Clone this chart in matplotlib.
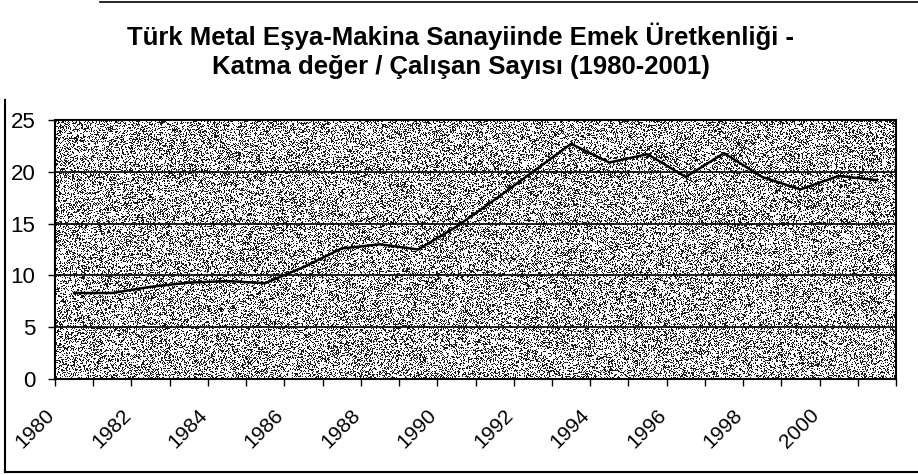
import numpy as np
import matplotlib
matplotlib.use("Agg")
import matplotlib.pyplot as plt
from matplotlib.lines import Line2D
from matplotlib.transforms import ScaledTranslation

plt.rcParams['font.family'] = ['Liberation Sans', 'DejaVu Sans']

years = list(range(1980, 2002))
productivity = [8.3, 8.3, 8.9, 9.3, 9.45, 9.25, 10.8, 12.6, 13.0, 12.5, 14.7,
                17.3, 20.0, 22.7, 20.9, 21.7, 19.5, 21.8, 19.5, 18.3, 19.6, 19.2]
yticks = [0, 5, 10, 15, 20, 25]
title = ("Türk Metal Eşya-Makina Sanayiinde Emek Üretkenliği -\n"
         "Katma değer / Çalışan Sayısı (1980-2001)")

fig = plt.figure(figsize=(9.18, 4.75), dpi=100)
ax = fig.add_axes([55 / 918, 1 - 379 / 475, 841 / 918, 259 / 475])

# stippled grey fill of the plot area
rng = np.random.default_rng(3)
stip = np.where(rng.random((259, 841)) < 0.34, 0.1, 1.0)
ax.imshow(stip, cmap='gray', vmin=0, vmax=1, extent=[0, 1, 0, 1],
          transform=ax.transAxes, aspect='auto', interpolation='nearest', zorder=0)

x = np.arange(len(years))
ax.plot(x, productivity, color='black', lw=1.8, zorder=3)

ax.set_xlim(-0.5, len(years) - 0.5)
ax.set_ylim(0, 25)
ax.set_yticks(yticks)
ax.set_yticklabels([str(v) for v in yticks], fontsize=16)
ax.yaxis.grid(True, color='black', lw=1.2, zorder=2)
ax.set_axisbelow(False)
ax.tick_params(axis='y', length=5, width=1, pad=9)

ax.set_xticks(x[::2])
ax.set_xticklabels([str(y) for y in years[::2]], rotation=45, ha='right',
                   va='top', fontsize=15)
ax.set_xticks(np.arange(-0.5, len(years)), minor=True)
ax.tick_params(axis='x', which='major', length=0, pad=19)
ax.tick_params(axis='x', which='minor', length=5, width=1)
shift = ScaledTranslation(-16 / 100, 0, fig.dpi_scale_trans)
for lab in ax.get_xticklabels():
    lab.set_transform(lab.get_transform() + shift)

for s in ax.spines.values():
    s.set_color('black')
    s.set_linewidth(1.5)

fig.text(0.502, 1 - 51 / 475, title, ha='center', va='center',
         fontsize=18.5, fontweight='bold', linespacing=1.25)

# outer frame of the chart
fig.add_artist(Line2D([5 / 918, 5 / 918], [1 - 472 / 475, 1 - 100 / 475],
                      color='black', lw=1.5, transform=fig.transFigure))
fig.add_artist(Line2D([5 / 918, 1], [1 - 472 / 475, 1 - 472 / 475],
                      color='black', lw=1.5, transform=fig.transFigure))
fig.add_artist(Line2D([100 / 918, 1], [1 - 1.5 / 475, 1 - 1.5 / 475],
                      color='black', lw=1.2, transform=fig.transFigure))

fig.savefig('out.png', dpi=100)
